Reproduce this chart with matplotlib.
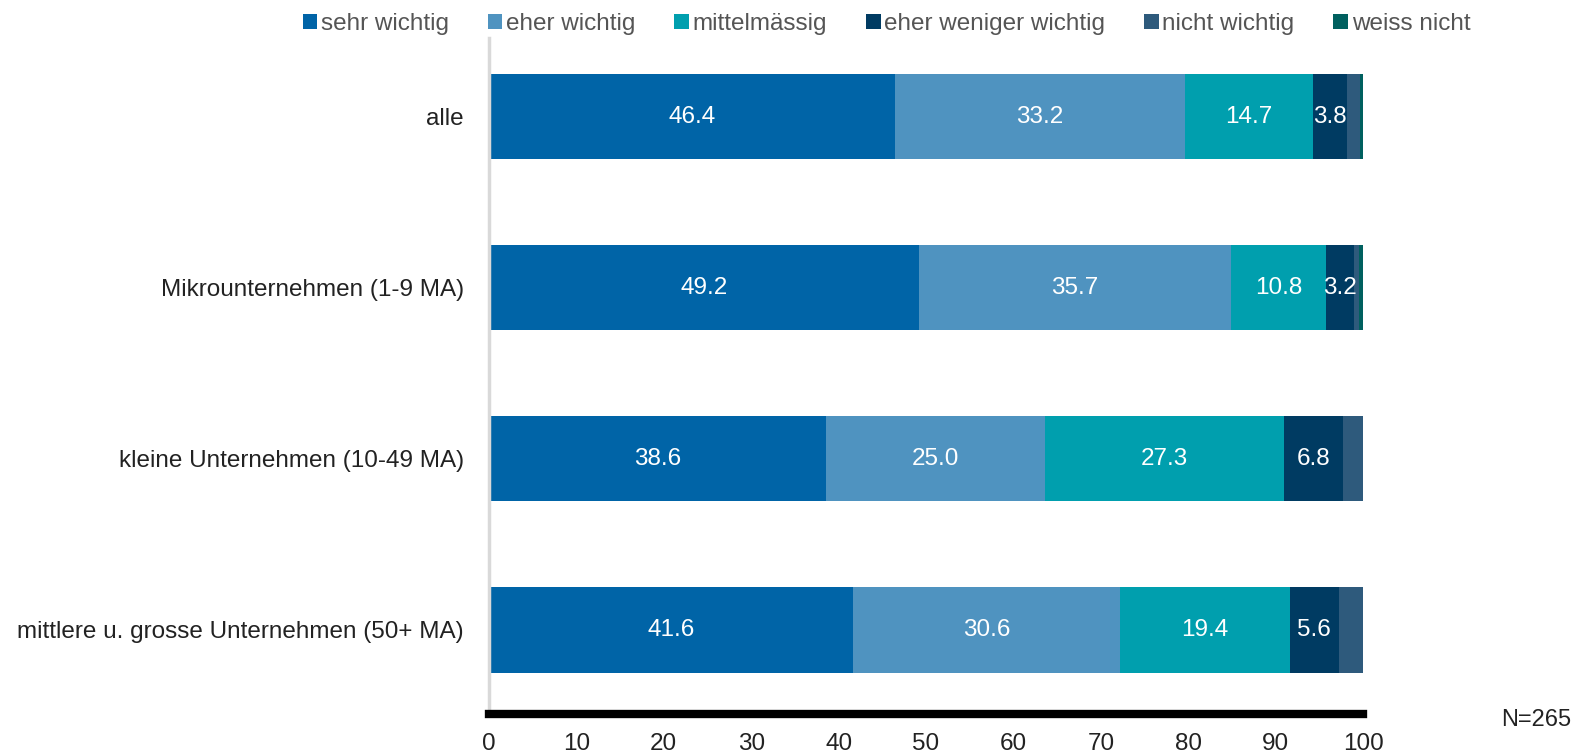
import matplotlib.pyplot as plt
from matplotlib.patches import Patch
import numpy as np

plt.rcParams["font.family"] = ["Liberation Sans", "DejaVu Sans"]

# ---------------------------------------------------------------------------
# Data
# ---------------------------------------------------------------------------
categories = [
    "alle",
    "Mikrounternehmen (1-9 MA)",
    "kleine Unternehmen (10-49 MA)",
    "mittlere u. grosse Unternehmen (50+ MA)",
]
series_names = [
    "sehr wichtig",
    "eher wichtig",
    "mittelmässig",
    "eher weniger wichtig",
    "nicht wichtig",
    "weiss nicht",
]
sehr_wichtig = [46.4, 49.2, 38.6, 41.6]
eher_wichtig = [33.2, 35.7, 25.0, 30.6]
mittelmaessig = [14.7, 10.8, 27.3, 19.4]
eher_weniger = [3.8, 3.2, 6.8, 5.6]
nicht_wichtig = [1.5, 0.6, 2.3, 2.8]
weiss_nicht = [0.4, 0.5, 0.0, 0.0]
n_label = "N=265"

COLORS = ["#0064a7", "#4f93c0", "#009fae", "#003b62", "#2e5a7c", "#00605f"]
FS = 17.5

series = [sehr_wichtig, eher_wichtig, mittelmaessig, eher_weniger,
          nicht_wichtig, weiss_nicht]

fig = plt.figure(figsize=(15.87, 7.56), dpi=100)
ax = fig.add_axes([0.308, 0.056, 0.551, 0.894])

y = np.arange(len(categories))
left = np.zeros(len(categories))
for vals, col in zip(series, COLORS):
    vals = np.array(vals)
    ax.barh(y, vals, left=left, height=0.5, color=col, edgecolor="none")
    for yi, (l, v) in enumerate(zip(left, vals)):
        if v >= 3:
            ax.text(l + v / 2, yi, f"{v:.1f}", ha="center", va="center",
                    color="white", fontsize=FS)
    left += vals

ax.set_xlim(0, 100)
ax.set_ylim(3.49, -0.46)
ax.set_yticks(y)
ax.set_yticklabels(categories, fontsize=FS, color="#222222")
ax.set_xticks(np.arange(0, 101, 10))
ax.tick_params(axis="x", labelsize=FS, labelcolor="#222222", length=0, pad=14)
ax.tick_params(axis="y", length=0, pad=18)

for s in ["top", "right"]:
    ax.spines[s].set_visible(False)
ax.spines["left"].set_color("#d9d9d9")
ax.spines["left"].set_linewidth(2.5)
ax.spines["bottom"].set_color("black")
ax.spines["bottom"].set_linewidth(6)

handles = [Patch(facecolor=c, edgecolor="none") for c in COLORS]
fig.legend(handles, series_names, loc="upper left", bbox_to_anchor=(0.177, 1.012),
           ncol=6, frameon=False, fontsize=FS, handlelength=0.6, handleheight=0.6,
           handletextpad=0.15, columnspacing=1.6, labelcolor="#555555")

fig.text(0.968, 0.048, n_label, ha="center", va="center", fontsize=17, color="#222222")

fig.savefig("out.png", dpi=100)
